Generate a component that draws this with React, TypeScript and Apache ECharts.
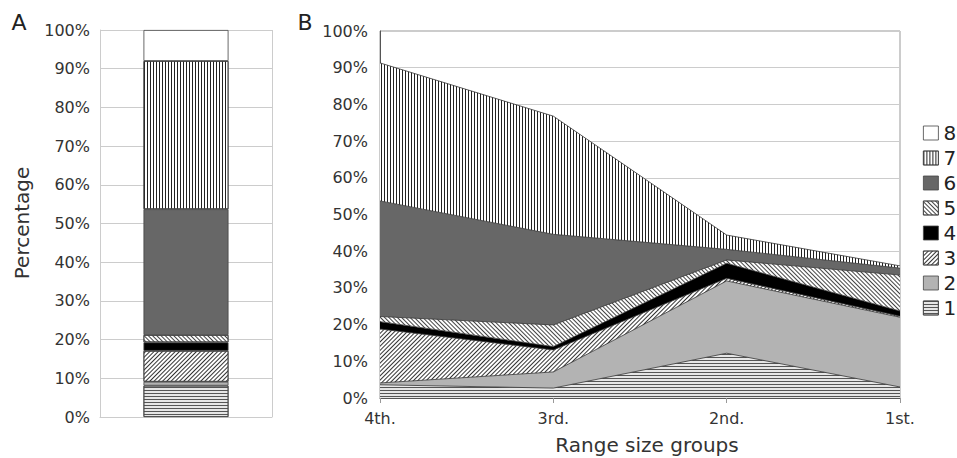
import React, { useEffect, useRef } from "react";
import * as echarts from "echarts";

// ---- Data ----
const seriesNames = ["1", "2", "3", "4", "5", "6", "7", "8"];
// Panel A: overall composition (%), series 1..8
const overallValues = [8.1, 1.0, 8.0, 2.2, 1.9, 32.5, 38.3, 8.0];
// Panel B: range size groups
const rangeGroups = ["4th.", "3rd.", "2nd.", "1st."];
const b1 = [3.6, 2.7, 12.2, 3.0];
const b2 = [0.5, 4.4, 19.7, 19.0];
const b3 = [14.7, 6.0, 0.7, 0.3];
const b4 = [2.0, 0.9, 4.1, 1.4];
const b5 = [1.4, 5.9, 0.9, 9.8];
const b6 = [31.5, 24.7, 2.9, 1.9];
const b7 = [37.6, 32.2, 3.9, 0.6];
const b8 = [8.7, 23.2, 55.6, 64.0];
const groupValues = [b1, b2, b3, b4, b5, b6, b7, b8];
const yTicks = [0, 10, 20, 30, 40, 50, 60, 70, 80, 90, 100];

const FONT = "DejaVu Sans";

// Styles per series (1..8)
const baseColors = ["#e6e6e6", "#b3b3b3", "#ffffff", "#000000", "#ffffff", "#676767", "#ffffff", "#ffffff"];
const decals: any[] = [
  { symbol: "rect", symbolSize: 1, dashArrayX: [1, 0], dashArrayY: [1, 2], color: "#555" },
  null,
  { symbol: "rect", symbolSize: 1, dashArrayX: [1, 0], dashArrayY: [1, 2], rotation: -Math.PI / 4, color: "#333" },
  null,
  { symbol: "rect", symbolSize: 1, dashArrayX: [1, 0], dashArrayY: [1, 2], rotation: Math.PI / 4, color: "#444" },
  null,
  { symbol: "rect", symbolSize: 1, dashArrayX: [1, 1.6], dashArrayY: [2, 0], color: "#222" },
  null,
];

export default function App() {
  const ref = useRef<HTMLDivElement>(null);
  useEffect(() => {
    if (!ref.current) return;
    const chart = echarts.init(ref.current, undefined, { renderer: "svg" });

    const barSeries = seriesNames.map((n, i) => ({
      name: "A" + n,
      type: "bar",
      stack: "a",
      xAxisIndex: 0,
      yAxisIndex: 0,
      barWidth: 85,
      data: [overallValues[i]],
      itemStyle: {
        color: baseColors[i],
        borderColor: "#444",
        borderWidth: 0.8,
        ...(decals[i] ? { decal: decals[i] } : {}),
      },
      emphasis: { disabled: true },
    }));

    const areaSeries = seriesNames.map((n, i) => ({
      name: n,
      type: "line",
      stack: "b",
      xAxisIndex: 1,
      yAxisIndex: 1,
      symbol: "none",
      data: groupValues[i],
      lineStyle: {
        color: i === 7 ? "rgba(0,0,0,0)" : "#333",
        width: 0.8,
        ...(decals[i] ? { decal: decals[i] } : {}),
      },
      itemStyle: { color: baseColors[i], ...(decals[i] ? { decal: decals[i] } : {}) },
      areaStyle: { color: baseColors[i], opacity: i === 7 ? 0 : 1 },
      emphasis: { disabled: true },
      z: 2,
    }));

    const yLabel = {
      formatter: "{value}%",
      fontSize: 16,
      fontFamily: FONT,
      color: "#333",
    };

    chart.setOption({
      animation: false,
      backgroundColor: "#fff",
      textStyle: { fontFamily: FONT },
      grid: [
        { left: 100, width: 172, top: 30, height: 387 },
        { left: 380, width: 520, top: 31, height: 367, show: true, borderColor: "#999", borderWidth: 1, backgroundColor: "transparent" },
      ],
      xAxis: [
        {
          gridIndex: 0,
          type: "category",
          data: [""],
          boundaryGap: true,
          axisLine: { show: true, lineStyle: { color: "#ccc" } },
          axisTick: { show: false },
          axisLabel: { show: false },
          splitLine: { show: true, lineStyle: { color: "#ccc" } },
        },
        {
          gridIndex: 1,
          type: "category",
          data: rangeGroups,
          boundaryGap: false,
          axisLine: { show: true, lineStyle: { color: "#555", width: 1 } },
          axisTick: { show: true, length: 5, lineStyle: { color: "#999" } },
          axisLabel: { interval: 0, fontSize: 16, fontFamily: FONT, color: "#333", margin: 12 },
          splitLine: { show: false },
        },
      ],
      yAxis: [
        {
          gridIndex: 0,
          type: "value",
          min: 0,
          max: 100,
          interval: 10,
          axisLine: { show: true, lineStyle: { color: "#ccc" } },
          axisTick: { show: false },
          axisLabel: { ...yLabel, margin: 10 },
          splitLine: { show: true, lineStyle: { color: "#ccc" } },
        },
        {
          gridIndex: 1,
          type: "value",
          min: yTicks[0],
          max: yTicks[yTicks.length - 1],
          interval: 10,
          axisLine: { show: true, lineStyle: { color: "#555" } },
          axisTick: { show: false },
          axisLabel: { ...yLabel, margin: 12 },
          splitLine: { show: true, lineStyle: { color: "#ccc" } },
        },
      ],
      legend: {
        orient: "vertical",
        left: 918,
        top: 118,
        icon: "rect",
        itemWidth: 15,
        itemHeight: 14,
        itemGap: 5,
        selectedMode: false,
        textStyle: { fontSize: 20, fontFamily: FONT, color: "#222" },
        itemStyle: { borderColor: "#444", borderWidth: 0.8 },
        data: seriesNames
          .map((n, i) => ({ name: n, itemStyle: { color: baseColors[i] } }))
          .reverse(),
      },
      graphic: [
        { type: "text", x: 19, y: 22, style: { text: "A", fontSize: 22, fontFamily: FONT, fill: "#222", align: "center", verticalAlign: "middle" } },
        { type: "text", x: 305, y: 22, style: { text: "B", fontSize: 22, fontFamily: FONT, fill: "#222", align: "center", verticalAlign: "middle" } },
        { type: "text", x: 22, y: 223, rotation: Math.PI / 2, style: { text: "Percentage", fontSize: 20, fontFamily: FONT, fill: "#333", align: "center", verticalAlign: "middle" } },
        { type: "text", x: 647, y: 445, style: { text: "Range size groups", fontSize: 20, fontFamily: FONT, fill: "#333", align: "center", verticalAlign: "middle" } },
      ],
      series: [...areaSeries, ...barSeries],
    });
    return () => chart.dispose();
  }, []);
  return (
    <div
      ref={ref}
      style={{ position: "fixed", left: 0, top: 0, width: 957, height: 458 }}
    />
  );
}
